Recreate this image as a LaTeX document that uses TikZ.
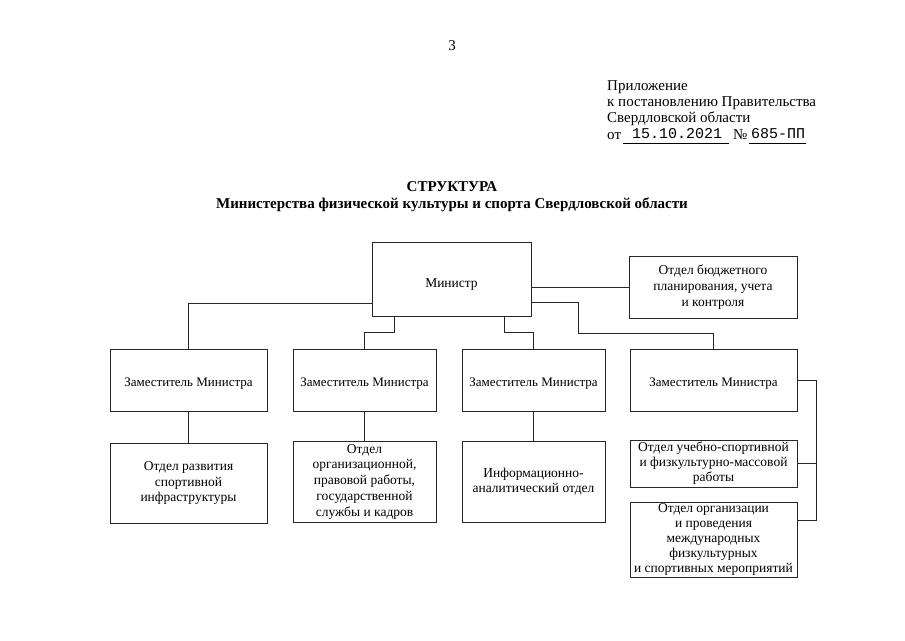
\documentclass[tikz,border=0pt]{standalone}
\usepackage{fontspec}
\setmainfont{Liberation Serif}
\newfontfamily\typewr{Liberation Mono}
\usetikzlibrary{positioning,calc}

\tikzset{
  unit/.style={draw=black!85, line width=0.6pt, align=center, inner sep=0.5pt,
    font=\fontsize{13.5}{15.75}\selectfont},
  textdrop/.style={execute at begin node={\rule{0pt}{#1}}},
  link/.style={draw=black!85, line width=0.6pt},
  headline/.style={anchor=base west, inner sep=0pt, font=\fontsize{15}{16}\selectfont},
  titleline/.style={anchor=base, inner sep=0pt, font=\fontsize{15}{16}\selectfont\bfseries},
}

\begin{document}
\begin{tikzpicture}[x=1pt,y=-1pt]
    \useasboundingbox (0,0) rectangle (905,640);

    % Page number and appendix note
    \node[anchor=base, inner sep=0pt, font=\fontsize{15}{16}\selectfont] (page) at (452,50) {3};
    \node[headline] (note1) at (607,90) {Приложение};
    \node[headline] (note2) at (607,106) {к постановлению Правительства};
    \node[headline] (note3) at (607,122.5) {Свердловской области};
    \node[headline] (note4) at (607,139) {от};
    \node[anchor=base, inner sep=0pt, font=\fontsize{15}{16}\typewr] (date) at (677,138.5) {15.10.2021};
    \node[headline] (numsign) at (733,139) {№};
    \node[anchor=base, inner sep=0pt, font=\fontsize{15}{16}\typewr] (number) at (778,138.5) {685-ПП};
    \draw[line width=0.5pt] (623,143) -- (729,143);
    \draw[line width=0.5pt] (749,143) -- (806,143);

    % Title
    \node[titleline] (title) at (452,191) {СТРУКТУРА};
    \node[titleline] (subtitle) at (452,208) {Министерства физической культуры и спорта Свердловской области};

    % Top level
    \node[unit, textdrop=19pt, minimum width=159pt, minimum height=74pt] (minister) at (451.5,279) {Министр};
    \node[unit, textdrop=15pt, minimum width=168pt, minimum height=62pt] (budget) at (713,287)
        {Отдел бюджетного\\планирования, учета\\и контроля};

    % Deputies
    \foreach \n/\x/\w in {1/188.5/157, 2/364.5/143, 3/533.5/143, 4/713.5/167} {
        \node[unit, textdrop=15pt, font=\fontsize{13}{15}\selectfont, minimum width=\w pt, minimum height=62pt]
            (dep\n) at (\x,380.5) {Заместитель Министра};
    }

    % Departments
    \node[unit, textdrop=12pt, minimum width=157pt, minimum height=80pt] (sub1) at (188.5,483)
        {Отдел развития\\спортивной\\инфраструктуры};
    \node[unit, textdrop=14.5pt, minimum width=143pt, minimum height=81pt] (sub2) at (364.5,481.5)
        {Отдел\\организационной,\\правовой работы,\\государственной\\службы и кадров};
    \node[unit, textdrop=16pt, minimum width=143pt, minimum height=81pt] (sub3) at (533.5,481.5)
        {Информационно-\\аналитический отдел};
    \node[unit, textdrop=13.5pt, font=\fontsize{13.5}{15}\selectfont, minimum width=167pt, minimum height=47pt]
        (sub4a) at (713.5,463.5)
        {Отдел учебно-спортивной\\и физкультурно-массовой\\работы};
    \node[unit, textdrop=11.5pt, font=\fontsize{13.5}{15}\selectfont, minimum width=167pt, minimum height=75pt]
        (sub4b) at (713.5,539.5)
        {Отдел организации\\и проведения\\международных\\физкультурных\\и спортивных мероприятий};

    % Connectors
    \draw[link] (minister.east |- budget.west) -- (budget.west);
    \draw[link] ([yshift=13pt]minister.south west) -| (dep1.north);
    \draw[link] ([xshift=23pt]minister.south west) -- ++(0,16) -| (dep2.north);
    \draw[link] ([xshift=-27pt]minister.south east) -- ++(0,16) -| (dep3.north);
    \draw[link] ([yshift=14pt]minister.south east) -- ++(47,0) -- ++(0,31) -| (dep4.north);
    \foreach \n in {1,2,3} {
        \draw[link] (dep\n.south) -- (sub\n.north);
    }
    \coordinate (rail) at ($(dep4.east)+(19,0)$);
    \draw[link] (dep4.east) -- (rail) |- ([yshift=19pt]sub4b.east);
    \draw[link] (sub4a.east) -- (rail |- sub4a.east);
\end{tikzpicture}
\end{document}
